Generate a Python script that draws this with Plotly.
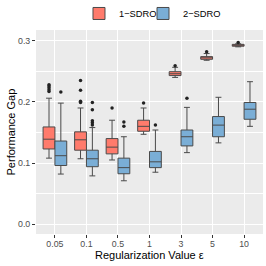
import plotly.graph_objects as go

categories = ["0.05", "0.1", "0.5", "1", "3", "5", "10"]

# 1-SDRO box statistics
s1_low = [0.108, 0.107, 0.105, 0.147, 0.240, 0.268, 0.290]
s1_q1 = [0.123, 0.121, 0.115, 0.152, 0.243, 0.2696, 0.291]
s1_med = [0.139, 0.138, 0.126, 0.160, 0.246, 0.272, 0.2925]
s1_q3 = [0.159, 0.151, 0.140, 0.170, 0.2494, 0.274, 0.294]
s1_high = [0.206, 0.190, 0.170, 0.190, 0.2565, 0.279, 0.295]
s1_out = [[0.228, 0.226, 0.223, 0.220, 0.217], [0.235, 0.219, 0.201, 0.199], [0.190],
          [0.198], [0.259], [0.282], [0.297]]

# 2-SDRO box statistics
s2_low = [0.082, 0.079, 0.071, 0.085, 0.117, 0.133, 0.160]
s2_q1 = [0.096, 0.094, 0.0825, 0.0925, 0.128, 0.143, 0.1716]
s2_med = [0.112, 0.107, 0.0925, 0.102, 0.143, 0.162, 0.188]
s2_q3 = [0.136, 0.121, 0.108, 0.119, 0.154, 0.176, 0.199]
s2_high = [0.198, 0.158, 0.143, 0.154, 0.191, 0.2075, 0.233]
s2_out = [[0.216], [0.199, 0.187, 0.169, 0.166, 0.162], [0.167, 0.160],
          [0.162], [0.206], [], []]

series = [
    ("1\u2212SDRO", "#FF7B6C", -0.1875, "legend", s1_low, s1_q1, s1_med, s1_q3, s1_high, s1_out),
    ("2\u2212SDRO", "#7AAED6", 0.1875, "legend2", s2_low, s2_q1, s2_med, s2_q3, s2_high, s2_out),
]

fig = go.Figure()
for name, color, off, leg, lo, q1, med, q3, hi, outs in series:
    xs = [i + off for i in range(len(categories))]
    fig.add_trace(go.Box(
        x=xs, q1=q1, median=med, q3=q3, lowerfence=lo, upperfence=hi,
        name=name, fillcolor=color, line=dict(color="#4A4A4A", width=1),
        width=0.375, boxpoints=False, legendgroup=name, legend=leg,
    ))
    ox, oy = [], []
    for i, vals in enumerate(outs):
        for v in vals:
            ox.append(i + off)
            oy.append(v)
    fig.add_trace(go.Scatter(
        x=ox, y=oy, mode="markers", showlegend=False, legendgroup=name, legend=leg,
        marker=dict(color="#222222", size=3.5),
    ))

leg_common = dict(orientation="h", xanchor="left", y=1.081, yanchor="middle",
                  font=dict(size=9.3, color="black"), itemwidth=30,
                  bgcolor="rgba(0,0,0,0)", tracegroupgap=0)

tick_font = dict(family="Liberation Sans, Arial", size=8.8, color="#4D4D4D")
fig.update_layout(
    width=266, height=266,
    margin=dict(l=36, r=3, t=30, b=32, autoexpand=False),
    paper_bgcolor="white", plot_bgcolor="#EBEBEB",
    font=dict(family="Liberation Sans, Arial", color="black"),
    showlegend=True,
    legend=dict(x=0.1894, **leg_common),
    legend2=dict(x=0.4714, **leg_common),
    xaxis=dict(
        range=[-0.6, 6.6], tickmode="array", tickvals=list(range(len(categories))),
        ticktext=categories, showgrid=True, gridcolor="white", gridwidth=1,
        zeroline=False, ticks="outside", ticklen=3, tickcolor="#333333",
        tickfont=tick_font, automargin=False, ticklabelstandoff=-2,
    ),
    yaxis=dict(
        range=[-0.016, 0.3175], tickvals=[0.0, 0.1, 0.2, 0.3],
        ticktext=["0.0", "0.1", "0.2", "0.3"],
        showgrid=True, gridcolor="white", gridwidth=1, zeroline=False,
        minor=dict(tickvals=[0.05, 0.15, 0.25], showgrid=True, gridcolor="white",
                   gridwidth=0.5, ticks=""),
        ticks="outside", ticklen=3, tickcolor="#333333", tickfont=tick_font,
        automargin=False,
    ),
    annotations=[
        dict(text="Regularization Value \u03b5", xref="paper", yref="paper",
             x=0.5, y=-0.104, xanchor="center", yanchor="middle", showarrow=False,
             font=dict(size=11, color="black")),
        dict(text="Performance Gap", xref="paper", yref="paper",
             x=-0.108, y=0.5, xanchor="center", yanchor="middle", showarrow=False,
             textangle=-90, font=dict(size=11, color="black")),
    ],
)

fig.write_html("out.html", config={"displayModeBar": False},
               post_script="document.body.style.margin='0px';")
